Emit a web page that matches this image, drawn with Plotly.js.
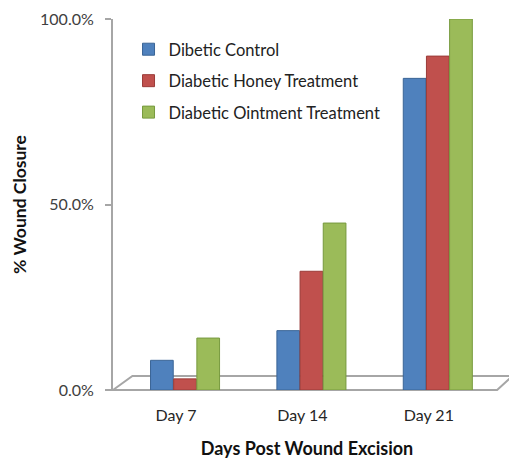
<!DOCTYPE html>
<html>
<head>
<meta charset="utf-8">
<script src="https://cdn.plot.ly/plotly-3.0.1.min.js"></script>
<style>html,body{margin:0;padding:0;background:#fff;}#chart{width:509px;height:459px;}</style>
</head>
<body>
<div id="chart"></div>
<script>
const categories = ["Day 7", "Day 14", "Day 21"];
const seriesNames = ["Dibetic Control", "Diabetic Honey Treatment", "Diabetic Ointment Treatment"];
const controlValues = [8, 16, 84];
const honeyValues = [3, 32, 90];
const ointmentValues = [14, 45, 100];
const yTickValues = [0, 50, 100];
const yTickLabels = ["0.0%", "50.0%", "100.0%"];

const colors = ["#4F81BD", "#C0504D", "#9BBB59"];
const lineColors = ["#3A6596", "#9B3B38", "#779A3E"];
const seriesValues = [controlValues, honeyValues, ointmentValues];

const FONT = "Lato, 'Open Sans', sans-serif";

const traces = seriesValues.map((vals, i) => ({
  type: "bar",
  name: seriesNames[i],
  legendgroup: "g" + i,
  x: categories,
  y: vals,
  marker: {color: colors[i], line: {color: lineColors[i], width: 1}},
  hoverinfo: "x+y+name"
}));

const layout = {
  width: 509, height: 459,
  margin: {l: 113, r: 8, t: 19, b: 69},
  paper_bgcolor: "#fff", plot_bgcolor: "rgba(0,0,0,0)",
  font: {family: FONT, color: "#262626", size: 15},
  barmode: "group",
  bargap: 0.45, bargroupgap: 0.02,
  showlegend: true,
  legend: {
    x: 0.04, y: 0.965, xanchor: "left", yanchor: "top",
    bgcolor: "rgba(0,0,0,0)",
    font: {family: FONT, size: 16.5, color: "#222"},
    traceorder: "grouped",
    tracegroupgap: 7, itemwidth: 30
  },
  xaxis: {
    type: "category",
    range: [-0.57, 2.5],
    showline: false, showgrid: false, zeroline: false,
    ticks: "", ticklabelstandoff: 14, ticklabelshift: -9,
    tickfont: {family: FONT, size: 16, color: "#262626"},
    title: {text: "<b>Days Post Wound Excision</b>", font: {family: FONT, size: 18, color: "#111"}, standoff: 20}
  },
  yaxis: {
    range: [0, 100],
    tickvals: yTickValues, ticktext: yTickLabels,
    showline: true, linecolor: "#A6A6A6", linewidth: 2,
    ticks: "outside", ticklen: 6, tickcolor: "#A6A6A6", tickwidth: 2,
    ticklabelstandoff: 8,
    showgrid: false, zeroline: false,
    tickfont: {family: FONT, size: 16, color: "#404040"},
    title: {text: "<b>% Wound Closure</b>", font: {family: FONT, size: 17.5, color: "#111"}, standoff: 9}
  },
  shapes: [
    {type: "path", xref: "paper", yref: "paper",
     path: "M 0 0 L 0.05 0.038 L 1.03 0.038 L 0.99 0 Z",
     line: {color: "#A6A6A6", width: 2}, fillcolor: "rgba(0,0,0,0)", layer: "below"},
    {type: "line", xref: "paper", yref: "paper", x0: -0.016, x1: 0, y0: 0, y1: 0,
     line: {color: "#A6A6A6", width: 2}}
  ]
};

Plotly.newPlot("chart", traces, layout, {displayModeBar: false});
</script>
</body>
</html>
